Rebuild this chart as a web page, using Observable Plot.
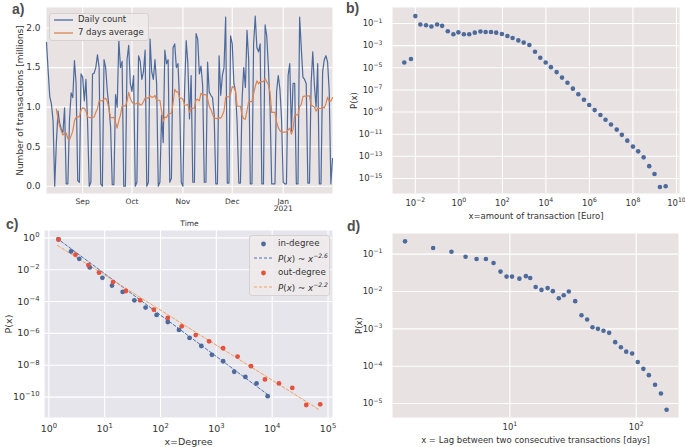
<!DOCTYPE html>
<html><head><meta charset="utf-8">
<script src="https://cdn.jsdelivr.net/npm/d3@7"></script>
<script src="https://cdn.jsdelivr.net/npm/@observablehq/plot@0.6"></script>
<style>
body{margin:0;background:#fff;font-family:"DejaVu Sans",sans-serif;}
#wrap{position:relative;width:685px;height:447px;overflow:hidden;background:#fff;}
.panel{position:absolute;}
.panel svg{overflow:visible;}
.plabel{position:absolute;font:bold 14px "Liberation Sans",Arial,sans-serif;color:#4d4d4d;line-height:1;}
.legend{position:absolute;background:rgba(238,235,235,0.85);border:1px solid #d6d2d2;border-radius:3px;color:#333;font-family:"DejaVu Sans",sans-serif;}
.legend .row{position:absolute;white-space:nowrap;line-height:1;}
.legend svg{position:absolute;overflow:visible;}
</style></head><body><div id="wrap"></div>
<script>
// ---------- Panel a: daily transactions ----------
const startDate = "2020-08-10";
const dailyCounts = [
  1.82, 1.46, 1.13, 1.04, 0.83, 0.00, 0.55,
  0.95, 0.80, 0.72, 0.68, 0.99, 0.03, 0.03,
  0.85, 1.18, 1.12, 1.59, 1.30, 0.07, 0.05,
  1.42, 1.38, 1.08, 1.35, 0.80, 0.00, 0.05,
  1.42, 1.43, 1.50, 1.66, 1.50, 0.03, 0.00,
  1.60, 1.50, 1.20, 1.00, 0.75, 0.02, 0.02,
  1.16, 1.00, 1.85, 1.50, 1.58, 0.00, 0.00,
  1.60, 1.78, 1.30, 1.20, 1.40, 0.00, 0.05,
  1.65, 1.58, 1.35, 1.45, 1.72, 0.00, 0.05,
  1.86, 1.45, 1.35, 1.60, 1.30, 0.00, 0.05,
  0.90, 0.55, 1.72, 1.55, 1.60, 0.05, 0.10,
  1.75, 1.80, 1.50, 1.55, 1.05, 0.05, 0.00,
  1.20, 1.84, 1.55, 0.85, 1.40, 0.05, 0.05,
  1.93, 1.86, 1.42, 1.52, 1.27, 0.05, 0.05,
  1.57, 1.19, 1.15, 1.12, 0.90, 0.03, 0.03,
  1.65, 1.15, 1.40, 1.50, 2.14, 0.04, 0.04,
  1.90, 1.80, 1.30, 1.20, 0.80, 0.04, 0.04,
  1.10, 1.50, 1.25, 1.97, 1.60, 0.03, 0.03,
  1.80, 2.15, 1.75, 1.70, 1.80, 0.03, 0.03,
  2.04, 1.90, 1.50, 1.00, 0.03, 0.03, 0.03,
  1.20, 1.40, 1.23, 0.85, 0.05, 0.03, 0.03,
  1.40, 1.55, 0.70, 1.30, 1.30, 0.03, 0.03,
  2.14, 1.75, 1.38, 1.35, 1.30, 0.04, 0.04,
  1.30, 1.70, 1.27, 1.00, 1.55, 0.03, 0.03,
  1.45, 1.60, 1.65, 1.57, 1.20, 0.03, 0.35
];
const monthTicks = ["2020-09-01", "2020-10-01", "2020-11-01", "2020-12-01", "2021-01-01"];
const monthLabels = ["Sep", "Oct", "Nov", "Dec", "Jan\n2021"];
const countTicks = [0, 0.5, 1.0, 1.5, 2.0];
const seriesNames = ["Daily count", "7 days average"];

// ---------- Panel b: transaction amount distribution ----------
const amountX = [3.1e-3, 6.3e-3, 1.0e-2, 1.7e-2, 3.1e-2, 5.5e-2, 0.10, 0.17, 0.31, 0.56,
  0.95, 1.7, 3.0, 5.4, 9.8, 17, 30, 52, 95, 170,
  295, 540, 955, 1740, 3160, 5500, 9800, 1.7e4, 3.1e4, 5.5e4,
  9.8e4, 1.74e5, 3.1e5, 5.6e5, 9.8e5, 1.74e6, 3.2e6, 5.5e6, 9.8e6, 1.8e7,
  3.1e7, 5.5e7, 1.0e8, 1.74e8, 3.1e8, 5.6e8, 9.8e8, 1.74e9, 3.2e9];
const amountP = [3.0e-5, 6.2e-5, 0.47, 8.1e-2, 7.1e-2, 5.4e-2, 8.1e-2, 6.2e-2, 2.0e-2, 1.07e-2,
  1.6e-2, 1.07e-2, 1.07e-2, 1.5e-2, 1.9e-2, 1.7e-2, 1.7e-2, 1.5e-2, 1.15e-2, 7.6e-3,
  5.0e-3, 3.0e-3, 1.9e-3, 1.15e-3, 2.8e-4, 8.1e-5, 3.0e-5, 1.15e-5, 4.1e-6, 1.3e-6,
  4.4e-7, 1.3e-7, 4.1e-8, 1.3e-8, 4.4e-9, 1.5e-9, 5.4e-10, 2.0e-10, 7.6e-11, 2.6e-11,
  8.7e-12, 2.6e-12, 7.6e-13, 2.8e-13, 8.1e-14, 1.3e-14, 2.5e-15, 1.7e-16, 2.0e-16];
const bTicksX = [1e-2, 1e0, 1e2, 1e4, 1e6, 1e8, 1e10];
const bTicksY = [1e-1, 1e-3, 1e-5, 1e-7, 1e-9, 1e-11, 1e-13, 1e-15];

// ---------- Panel c: degree distributions ----------
const inDegX = [1.49, 2.5, 3.5, 5.4, 9.1, 13.5, 21, 34, 54, 85,
  135, 214, 331, 537, 832, 1320, 2090, 3310, 5250, 8300];
const inDegP = [0.79, 0.14, 0.048, 0.0138, 3.1e-3, 1.0e-3, 4.0e-4, 1.2e-4, 4.2e-5, 1.45e-5,
  5.2e-6, 1.66e-6, 5.2e-7, 1.62e-7, 4.5e-8, 1.78e-8, 3.9e-9, 1.86e-9, 7.2e-10, 1.15e-10];
const outDegX = [1.49, 3.0, 5.1, 7.9, 14.1, 24, 43, 76, 135, 240,
  427, 741, 1320, 2400, 4170, 7410, 1.32e4, 2.29e4, 4.07e4, 7.24e4];
const outDegP = [0.79, 0.087, 0.0195, 6.5e-3, 1.66e-3, 4.6e-4, 1.2e-4, 3.1e-5, 9.3e-6, 2.8e-6,
  7.9e-7, 3.2e-7, 1.17e-7, 3.5e-8, 8.7e-9, 1.29e-9, 7.2e-10, 3.8e-10, 3.2e-11, 3.5e-11];
// power-law fits P(x) = 10^logC * x^exponent over [xMin, xMax]
const inFit = {exponent: -2.6, logC: 0.35, xMin: 1.39, xMax: 8700};
const outFit = {exponent: -2.2, logC: -0.14, xMin: 1.43, xMax: 7.2e4};
const cTicksX = [1e0, 1e1, 1e2, 1e3, 1e4, 1e5];
const cTicksY = [1e0, 1e-2, 1e-4, 1e-6, 1e-8, 1e-10];
const cLegend = ["in-degree", "P(x) ~ x^-2.6", "out-degree", "P(x) ~ x^-2.2"];

// ---------- Panel d: inter-transaction lag ----------
const lagX = [1.48, 2.47, 3.45, 4.46, 5.45, 6.46, 7.43, 8.43, 9.42, 10.4,
  11.9, 13.4, 14.5, 16.0, 17.8, 19.9, 21.9, 24.4, 26.7, 29.3,
  32.9, 36.9, 40.9, 45.1, 49.8, 55.1, 61.1, 68.2, 75.7, 83.4,
  92.9, 103, 114, 126, 141, 157, 174];
const lagP = [0.219, 0.145, 0.115, 0.085, 0.074, 0.074, 0.058, 0.034, 0.025, 0.025,
  0.022, 0.0257, 0.0229, 0.0132, 0.011, 0.0123, 0.0102, 0.0066, 0.0079, 0.0100,
  0.0055, 0.0023, 0.00178, 0.0011, 0.00100, 0.00089, 0.00078, 0.00044, 0.00032, 0.000245,
  0.000219, 0.000129, 8.5e-5, 5.75e-5, 3.2e-5, 1.86e-5, 6.8e-6];
const dTicksX = [1e1, 1e2];
const dTicksY = [1e-1, 1e-2, 1e-3, 1e-4, 1e-5];

// ---------- styling ----------
const FONT = "DejaVu Sans";
const TXT = "#333333";
const BG = "#e8e2e2";
const BGC = "#e7e5ec";
const BLUE = "#4c6a9c";
const ORANGE = "#dd8452";
const RED = "#e4513d";
const ORANGE_FIT = "#f3a05c";
const BLUE_FIT = "#4c72b0";
const GRID = {stroke: "white", strokeOpacity: 1, strokeWidth: 1.1};

const SUP = {"-": "\u207B", "0": "\u2070", "1": "\u00B9", "2": "\u00B2", "3": "\u00B3", "4": "\u2074",
  "5": "\u2075", "6": "\u2076", "7": "\u2077", "8": "\u2078", "9": "\u2079"};
const UNSUP = Object.fromEntries(Object.entries(SUP).map(([k, v]) => [v, k === "-" ? "\u2212" : k]));
const fmtPow = v => "10" + String(Math.round(Math.log10(v))).split("").map(c => SUP[c]).join("");
const baseStyle = {fontFamily: FONT, color: TXT, background: "transparent", overflow: "visible"};

// typeset "10⁻³"-style tick labels as 10 + raised smaller exponent (like mathtext)
function typesetPowers(svg) {
  const NS = "http://www.w3.org/2000/svg";
  svg.querySelectorAll("text").forEach(t => {
    if (t.querySelector("tspan")) return;
    const m = /^10([\u207B\u2070\u00B9\u00B2\u00B3\u2074-\u2079]+)$/.exec(t.textContent);
    if (!m) return;
    const exp = m[1].split("").map(c => UNSUP[c]).join("");
    t.textContent = "";
    const base = document.createElementNS(NS, "tspan");
    base.textContent = "10";
    const sup = document.createElementNS(NS, "tspan");
    sup.textContent = exp;
    sup.setAttribute("font-size", "72%");
    sup.setAttribute("dy", "-0.55em");
    t.appendChild(base); t.appendChild(sup);
  });
  return svg;
}

const wrap = document.getElementById("wrap");
function place(el, left, top) {
  const d = document.createElement("div");
  d.className = "panel";
  d.style.left = left + "px"; d.style.top = top + "px";
  d.appendChild(el);
  wrap.appendChild(d);
}

// ---- a ----
const dailyRows = dailyCounts.map((c, i) => ({date: d3.utcDay.offset(new Date(startDate), i), count: c}));
const monthDates = monthTicks.map(t => new Date(t));
const plotA = Plot.plot({
  width: 340, height: 225, marginLeft: 46, marginRight: 8, marginTop: 7, marginBottom: 32,
  style: baseStyle,
  x: {type: "utc", domain: [dailyRows[0].date, dailyRows[dailyRows.length - 1].date]},
  y: {domain: [-0.092, 2.26]},
  marks: [
    Plot.frame({fill: BG, stroke: "none"}),
    Plot.gridX({ticks: monthDates, ...GRID}),
    Plot.gridY({ticks: countTicks, ...GRID}),
    Plot.axisX({ticks: monthDates, tickSize: 0, tickPadding: 5, fontSize: 7.5,
      tickFormat: d => monthLabels[monthDates.findIndex(t => +t === +d)],
      label: "Time", labelAnchor: "center", labelOffset: 32, labelArrow: "none"}),
    Plot.axisY({ticks: countTicks, tickSize: 0, tickPadding: 6, fontSize: 9,
      tickFormat: d => d.toFixed(1),
      label: "Number of transactions [millions]", labelAnchor: "center", labelOffset: 30, labelArrow: "none"}),
    Plot.lineY(dailyRows, {x: "date", y: "count", stroke: BLUE, strokeWidth: 1.2}),
    Plot.lineY(dailyRows, Plot.windowY({k: 7, anchor: "end", strict: true}, {x: "date", y: "count", stroke: ORANGE, strokeWidth: 1.2}))
  ]
});
place(plotA, 0, 0);

// ---- b ----
const rowsB = amountX.map((x, i) => ({x, p: amountP[i]}));
const plotB = Plot.plot({
  width: 345, height: 225, marginLeft: 52, marginRight: 6, marginTop: 7, marginBottom: 32,
  style: baseStyle,
  x: {type: "log", domain: [10 ** -3.05, 10 ** 10.14]},
  y: {type: "log", domain: [10 ** -16.36, 10 ** 0.45]},
  marks: [
    Plot.frame({fill: BG, stroke: "none"}),
    Plot.gridX({ticks: bTicksX, ...GRID}),
    Plot.gridY({ticks: bTicksY, ...GRID}),
    Plot.axisX({ticks: bTicksX, tickFormat: fmtPow, tickSize: 0, tickPadding: 6, fontSize: 8.5,
      label: "x=amount of transaction [Euro]", labelAnchor: "center", labelOffset: 25, labelArrow: "none"}),
    Plot.axisY({ticks: bTicksY, tickFormat: fmtPow, tickSize: 0, tickPadding: 10, fontSize: 8.5,
      label: "P(x)", labelAnchor: "center", labelOffset: 42, labelArrow: "none"}),
    Plot.dot(rowsB, {x: "x", y: "p", r: 2.3, fill: BLUE, stroke: "none"})
  ]
});
place(typesetPowers(plotB), 340, 0);

// ---- c ----
const rowsIn = inDegX.map((x, i) => ({x, p: inDegP[i]}));
const rowsOut = outDegX.map((x, i) => ({x, p: outDegP[i]}));
const fitRows = f => [f.xMin, f.xMax].map(x => ({x, p: 10 ** f.logC * x ** f.exponent}));
const plotC = Plot.plot({
  width: 340, height: 222, marginLeft: 44, marginRight: 8, marginTop: 5, marginBottom: 30,
  style: baseStyle,
  x: {type: "log", domain: [10 ** -0.078, 10 ** 5.08]},
  y: {type: "log", domain: [10 ** -11.28, 10 ** 0.46]},
  marks: [
    Plot.frame({fill: BGC, stroke: "none"}),
    Plot.gridX({ticks: cTicksX, ...GRID}),
    Plot.gridY({ticks: cTicksY, ...GRID}),
    Plot.axisX({ticks: cTicksX, tickFormat: fmtPow, tickSize: 0, tickPadding: 8, fontSize: 9.5,
      label: "x=Degree", labelAnchor: "center", labelOffset: 27, labelArrow: "none"}),
    Plot.axisY({ticks: cTicksY, tickFormat: fmtPow, tickSize: 0, tickPadding: 5, fontSize: 9.5,
      label: "P(x)", labelAnchor: "center", labelOffset: 39, labelArrow: "none"}),
    Plot.line(fitRows(inFit), {x: "x", y: "p", stroke: BLUE_FIT, strokeWidth: 1, strokeDasharray: "3,2"}),
    Plot.line(fitRows(outFit), {x: "x", y: "p", stroke: ORANGE_FIT, strokeWidth: 1, strokeDasharray: "3,2"}),
    Plot.dot(rowsIn, {x: "x", y: "p", r: 2.4, fill: BLUE, stroke: "none"}),
    Plot.dot(rowsOut, {x: "x", y: "p", r: 2.4, fill: RED, stroke: "none"})
  ]
});
place(typesetPowers(plotC), 0, 225);

// ---- d ----
const rowsD = lagX.map((x, i) => ({x, p: lagP[i]}));
const plotD = Plot.plot({
  width: 345, height: 222, marginLeft: 52, marginRight: 7, marginTop: 8, marginBottom: 30,
  style: baseStyle,
  x: {type: "log", domain: [10 ** 0.071, 10 ** 2.335]},
  y: {type: "log", domain: [10 ** -5.373, 10 ** -0.449]},
  marks: [
    Plot.frame({fill: BG, stroke: "none"}),
    Plot.gridX({ticks: dTicksX, ...GRID}),
    Plot.gridY({ticks: dTicksY, ...GRID}),
    Plot.axisX({ticks: dTicksX, tickFormat: fmtPow, tickSize: 0, tickPadding: 6, fontSize: 8.5,
      label: "x = Lag between two consecutive transactions [days]", labelAnchor: "center", labelOffset: 25, labelArrow: "none"}),
    Plot.axisY({ticks: dTicksY, tickFormat: fmtPow, tickSize: 0, tickPadding: 10, fontSize: 8.5,
      label: "P(x)", labelAnchor: "center", labelOffset: 37, labelArrow: "none"}),
    Plot.dot(rowsD, {x: "x", y: "p", r: 2.3, fill: BLUE, stroke: "none"})
  ]
});
place(typesetPowers(plotD), 340, 225);

// ---------- panel letters ----------
[["a)", 12, 2], ["b)", 346, 1], ["c)", 6, 217], ["d)", 347, 219]].forEach(([t, x, y]) => {
  const s = document.createElement("div");
  s.className = "plabel"; s.textContent = t;
  s.style.left = x + "px"; s.style.top = y + "px";
  wrap.appendChild(s);
});

// ---------- legends ----------
function legend(box, rows, fontSize) {
  const L = document.createElement("div");
  L.className = "legend";
  Object.assign(L.style, {left: box[0] + "px", top: box[1] + "px", width: box[2] + "px", height: box[3] + "px", fontSize: fontSize + "px"});
  rows.forEach(r => {
    const svgNS = "http://www.w3.org/2000/svg";
    const s = document.createElementNS(svgNS, "svg");
    s.setAttribute("width", 20); s.setAttribute("height", 8);
    s.style.left = "4px"; s.style.top = (r.y - 4) + "px";
    let el;
    if (r.kind === "dot") {
      el = document.createElementNS(svgNS, "circle");
      el.setAttribute("cx", 9.5); el.setAttribute("cy", 4); el.setAttribute("r", 2.4); el.setAttribute("fill", r.color);
    } else {
      el = document.createElementNS(svgNS, "line");
      el.setAttribute("x1", 0); el.setAttribute("x2", 19); el.setAttribute("y1", 4); el.setAttribute("y2", 4);
      el.setAttribute("stroke", r.color); el.setAttribute("stroke-width", r.kind === "dash" ? 1 : 1.3);
      if (r.kind === "dash") el.setAttribute("stroke-dasharray", "3,2");
    }
    s.appendChild(el); L.appendChild(s);
    const t = document.createElement("div");
    t.className = "row"; t.innerHTML = r.html;
    t.style.left = "28px"; t.style.top = (r.y - fontSize * 0.55) + "px";
    L.appendChild(t);
  });
  wrap.appendChild(L);
}
legend([49, 13, 98, 26], [
  {kind: "line", color: BLUE, y: 6, html: seriesNames[0]},
  {kind: "line", color: ORANGE, y: 19, html: seriesNames[1]}
], 8.5);
const powHtml = s => s.replace(/P\(x\) ~ x\^-(.*)/, "<i>P</i>(<i>x</i>) ~ <i>x</i><sup style='font-size:6px;font-style:italic'>\u2212$1</sup>");
legend([249, 235, 79, 59], [
  {kind: "dot", color: BLUE, y: 7.7, html: cLegend[0]},
  {kind: "dash", color: BLUE_FIT, y: 21.7, html: powHtml(cLegend[1])},
  {kind: "dot", color: RED, y: 36.7, html: cLegend[2]},
  {kind: "dash", color: ORANGE_FIT, y: 51, html: powHtml(cLegend[3])}
], 8.7);
</script></body></html>
